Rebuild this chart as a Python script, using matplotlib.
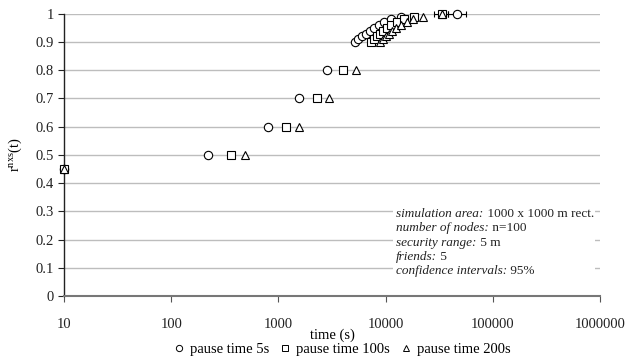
import matplotlib
matplotlib.use("Agg")
import matplotlib.pyplot as plt
from matplotlib.lines import Line2D
from matplotlib.patches import Rectangle
import numpy as np

plt.rcParams['font.family'] = ['Liberation Serif', 'DejaVu Serif']
plt.rcParams['mathtext.fontset'] = 'custom'
plt.rcParams['mathtext.rm'] = 'Liberation Serif'
plt.rcParams['mathtext.it'] = 'Liberation Serif:italic'

# data
r_levels = [0.45, 0.5, 0.6, 0.7, 0.8, 0.90, 0.91, 0.92, 0.93, 0.94, 0.95, 0.96, 0.97, 0.98, 0.99, 1.0]
t_pause5 = [10, 222, 805, 1567, 2850, 5200, 5550, 6040, 6580, 7170, 7820, 8700, 9680, 11250, 13950, 46300]
t_pause100 = [10, 357, 1186, 2300, 4020, 7330, 7820, 8340, 8890, 9480, 10330, 11250, 12800, 14870, 18400, 33600]
t_pause200 = [10, 492, 1567, 2980, 5310, 8890, 9480, 10100, 10800, 11500, 12540, 13950, 15860, 18000, 22300, 33600]
err5_lo = [0]*15 + [7600]
err5_hi = [0]*15 + [9700]
err100_lo = [0]*15 + [5100]
err100_hi = [0]*15 + [4900]

series_labels = ['pause time 5s', 'pause time 100s', 'pause time 200s']
series_markers = ['o', 's', '^']
x_ticks = [10, 100, 1000, 10000, 100000, 1000000]
x_ticklabels = ['10', '100', '1000', '10000', '100000', '1000000']
y_ticks = [0, 0.1, 0.2, 0.3, 0.4, 0.5, 0.6, 0.7, 0.8, 0.9, 1]
y_ticklabels = ['0', '0.1', '0.2', '0.3', '0.4', '0.5', '0.6', '0.7', '0.8', '0.9', '1']

info_labels = ['simulation area:', 'number of nodes:', 'security range:', 'friends:', 'confidence intervals:']
info_values = ['1000 x 1000 m rect.', 'n=100', '5 m', '5', '95%']

fig = plt.figure(figsize=(6.27, 3.64), dpi=100)
ax = fig.add_axes([0.1025, 0.187, 0.854, 0.775])

ax.set_xscale('log')
ax.set_xlim(10, 1000000)
ax.set_ylim(0, 1)

for v in y_ticks[1:]:
    ax.axhline(v, color='#bdbdbd', lw=1.0, zorder=1)

mk = dict(mfc='white', mec='black', mew=0.8, ms=6, ls='none', zorder=5, clip_on=False)
e1 = ax.errorbar(t_pause5, r_levels, xerr=[err5_lo, err5_hi], fmt='o', ecolor='black',
                 elinewidth=0.8, capsize=2, **mk)
e2 = ax.errorbar(t_pause100, r_levels, xerr=[err100_lo, err100_hi], fmt='s', ecolor='black',
                 elinewidth=0.8, capsize=2, **mk)
e3 = ax.errorbar(t_pause200, r_levels, fmt='^', **mk)

ax.set_xticks(x_ticks)
ax.set_xticklabels(x_ticklabels)
ax.xaxis.set_minor_locator(matplotlib.ticker.NullLocator())
ax.set_yticks(y_ticks)
ax.set_yticklabels(y_ticklabels)
ax.tick_params(axis='both', labelsize=10.5, direction='out', length=4, width=0.8, colors='#222222')
ax.tick_params(axis='x', pad=12, colors='#555555', labelcolor='#222222')

for s in ['top', 'right']:
    ax.spines[s].set_visible(False)
ax.spines['left'].set_color('#222222')
ax.spines['left'].set_linewidth(1.0)
ax.spines['bottom'].set_color('#777777')
ax.spines['bottom'].set_linewidth(1.5)

ax.set_xlabel('time (s)', fontsize=10.5, labelpad=-2)
ax.set_ylabel(r'$\mathrm{r^{nxs}(t)}$', fontsize=10.5, labelpad=8)

# info box
ax.add_patch(Rectangle((0.614, 0.06), 0.378, 0.29, transform=ax.transAxes,
                       facecolor='white', edgecolor='none', zorder=3))
y0 = 0.29
dy = 0.0505
for i, (lab, val) in enumerate(zip(info_labels, info_values)):
    t = ax.text(0.620, y0 - i * dy, lab, transform=ax.transAxes, fontsize=9.5,
                style='italic', va='center', ha='left', zorder=6, color='#222222')
    ax.annotate(' ' + val, xy=(1, 0), xycoords=t, va='bottom', ha='left',
                fontsize=9.5, zorder=6, color='#222222')

handles = [Line2D([], [], marker=m, mfc='white', mec='black', mew=0.7, ms=4.5, ls='none')
           for m in series_markers]
fig.legend(handles, series_labels, loc='lower center', bbox_to_anchor=(0.545, -0.015), ncol=3,
           frameon=False, fontsize=10.5, handlelength=0.8,
           handletextpad=0.35, columnspacing=0.7)

fig.savefig('out.png', dpi=100)
